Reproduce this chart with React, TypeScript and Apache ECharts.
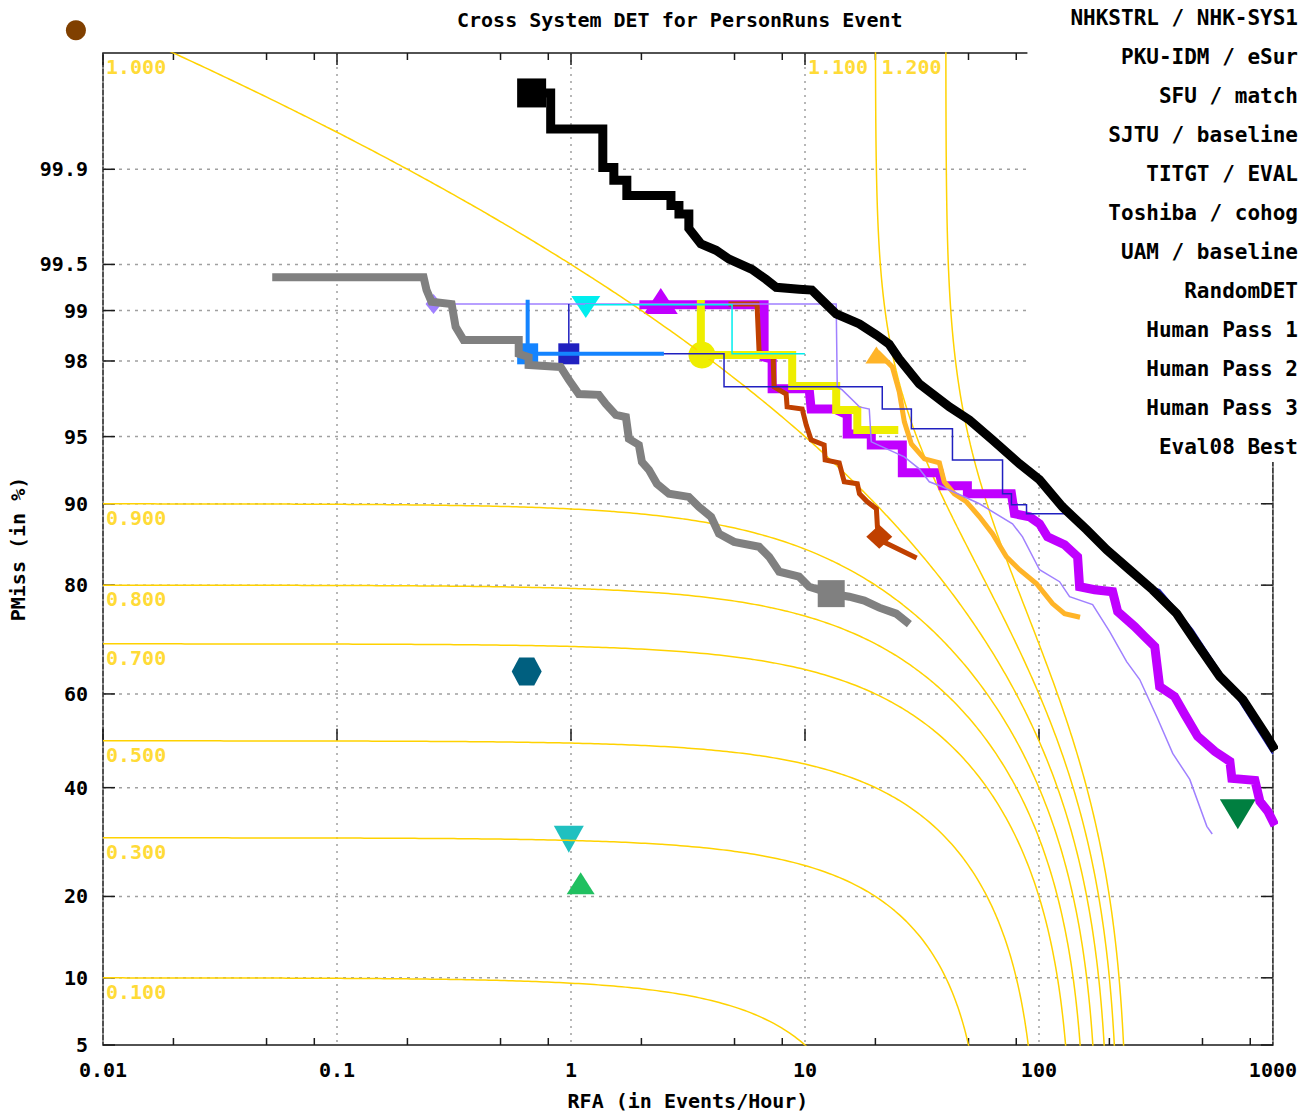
import React, { useEffect, useRef } from 'react';
import * as echarts from 'echarts';

const FONT = '"DejaVu Sans Mono", monospace';

// ---- axis ticks ----
const yTickPct = [5, 10, 20, 40, 60, 80, 90, 95, 98, 99, 99.5, 99.9];
const yTickLabels = ['5', '10', '20', '40', '60', '80', '90', '95', '98', '99', '99.5', '99.9'];
const xMinorTicks = [0.02, 0.05, 0.08, 0.2, 0.5, 0.8, 2, 5, 8, 20, 50, 80, 200, 500, 800];
const xMin = 0.01;
const xMax = 1000;
const yMinPct = 5;
const yMaxPct = 99.99;

// ---- iso-cost reference curves: cost = PMiss + beta * RFA ----
const costBeta = 0.005;
const costLevels = [0.1, 0.3, 0.5, 0.7, 0.8, 0.9, 1.0, 1.1, 1.2];
const costLabelText = ['0.100', '0.300', '0.500', '0.700', '0.800', '0.900', '1.000', '1.100', '1.200'];
const costLabelAt = [
  [0.01, 10], [0.01, 30], [0.01, 50], [0.01, 70], [0.01, 80], [0.01, 90],
  [0.01, 99.99], [10, 99.99], [20.6, 99.99],
];

// ---- legend ----
const legendNames = [
  'NHKSTRL / NHK-SYS1', 'PKU-IDM / eSur', 'SFU / match', 'SJTU / baseline',
  'TITGT / EVAL', 'Toshiba / cohog', 'UAM / baseline', 'RandomDET',
  'Human Pass 1', 'Human Pass 2', 'Human Pass 3', 'Eval08 Best',
];

// ---- system curves: [RFA (events/hour), PMiss (%)] ----
const blackCurve = [
  [0.679, 99.977], [0.819, 99.977], [0.819, 99.953], [1.368, 99.953], [1.368, 99.903], [1.525, 99.903],
  [1.525, 99.878], [1.733, 99.878], [1.733, 99.84], [2.675, 99.84], [2.675, 99.81], [2.894, 99.81],
  [2.894, 99.78], [3.19, 99.78], [3.19, 99.72], [3.59, 99.64], [4.17, 99.60], [4.74, 99.54],
  [5.94, 99.46], [6.82, 99.37], [7.53, 99.29], [9.44, 99.27], [10.7, 99.26], [12.3, 99.09],
  [13.6, 98.95], [17.1, 98.79], [20.2, 98.59], [22.9, 98.40], [25.3, 98.05], [30.8, 97.32],
  [41.4, 96.45], [50.5, 95.86], [63.3, 94.81], [82.6, 93.29], [100.6, 92.09], [126, 89.71],
  [160, 87.31], [194.6, 84.92], [244, 82.25], [306, 79.30], [388, 75.41], [473, 70.04],
  [593, 63.59], [744, 58.82], [942, 50.94], [1000, 48.78],
];
const blackMarker = [0.679, 99.977];

const grayCurve = [
  [0.055, 99.39], [0.2345, 99.39], [0.2414, 99.26], [0.2535, 99.12], [0.309, 99.09], [0.3214, 98.74],
  [0.3475, 98.49], [0.598, 98.49], [0.598, 98.18], [0.659, 98.10], [0.659, 97.89], [0.903, 97.84],
  [0.979, 97.45], [1.080, 96.96], [1.315, 96.93], [1.409, 96.57], [1.555, 96.10], [1.717, 96.00],
  [1.768, 94.87], [1.950, 94.52], [2.01, 93.42], [2.153, 92.86], [2.33, 91.77], [2.623, 90.92],
  [3.19, 90.64], [3.52, 89.71], [3.97, 88.71], [4.29, 86.86], [4.98, 85.90], [6.37, 85.29],
  [7.03, 84.01], [7.76, 81.98], [9.44, 81.25], [10.42, 79.76], [12.95, 78.69], [15.46, 78.20],
  [17.92, 77.58], [20.78, 76.42], [24.55, 75.41], [27.1, 74.02],
];
const grayMarker = [12.95, 78.69];

const magentaCurve = [
  [2.05, 99.08], [6.69, 99.08], [6.69, 98.10], [7.24, 98.05], [7.24, 97.15], [10.42, 97.15],
  [10.63, 96.36], [13.34, 96.36], [15.16, 96.10], [15.16, 95.15], [19.21, 95.15], [19.21, 94.52],
  [26.07, 94.52], [26.07, 92.63], [37.54, 92.63], [38.65, 91.60], [49.45, 91.60], [49.45, 90.92],
  [76.3, 90.92], [78.6, 89.02], [91.2, 88.71], [100.6, 87.97], [108.8, 86.50], [128.7, 85.54],
  [146.3, 84.01], [149.2, 79.76], [173, 79.30], [206.5, 78.99], [217, 75.75], [256.5, 73.15],
  [283, 71.34], [312.6, 69.48], [328, 61.54], [380, 59.46], [420, 55.66], [477, 50.94],
  [565, 47.71], [654.6, 45.56], [667.6, 41.95], [837.6, 41.53], [879.6, 37.16], [952, 35.14],
  [1000, 33.16],
];
const magentaMarker = [2.42, 99.13];

const lavenderCurve = [
  [0.2586, 99.09], [13.6, 99.09], [13.74, 97.22], [14.43, 97.11], [17.1, 96.45], [18.83, 96.36],
  [19.21, 94.70], [26.6, 93.76], [30.8, 92.93], [34.0, 91.93], [38.65, 91.52], [55.7, 90.00],
  [77.1, 87.97], [85.1, 86.50], [100.6, 82.25], [122.5, 80.52], [135.2, 78.20], [169.6, 76.92],
  [200.6, 72.25], [237, 66.58], [269.6, 62.98], [318.6, 55.23], [373, 47.28], [441.2, 41.73],
  [521.9, 32.19], [548, 30.84],
];
const lavenderMarker = [0.2586, 99.09];

const navyCurve = [
  [0.979, 99.08], [0.979, 98.18], [4.51, 98.18], [4.51, 97.22], [21.4, 97.22], [21.4, 96.36],
  [28.5, 96.36], [28.5, 95.42], [42.7, 95.42], [42.7, 93.56], [69.9, 93.56], [69.9, 90.92],
  [76.3, 90.92], [76.3, 89.90], [88.5, 89.90], [88.5, 89.02], [135.2, 89.02], [181.7, 85.90],
  [297.5, 79.76], [328, 79.30], [388, 76.09], [454.5, 72.62], [654.6, 61.54], [995, 47.28],
];
const navyMarker = [0.979, 98.18];

const blueCurve = [[0.653, 99.12], [0.653, 98.18], [2.447, 98.18]];
const blueMarker = [0.653, 98.18];

const cyanCurve = [[1.157, 99.08], [4.88, 99.08], [4.88, 98.18], [9.92, 98.18]];
const cyanMarker = [1.157, 99.05];

const yellowCurve = [
  [3.59, 99.09], [3.59, 98.15], [8.82, 98.15], [8.82, 97.25], [13.6, 97.25], [13.6, 96.32],
  [16.74, 96.32], [16.74, 95.36], [24.09, 95.36],
];
const yellowMarker = [3.63, 98.15];

const orangeRedCurve = [
  [4.83, 99.09], [6.24, 99.09], [6.37, 98.22], [7.31, 98.10], [7.38, 97.22], [8.31, 96.96],
  [8.39, 96.45], [9.73, 96.36], [10.12, 95.62], [10.63, 94.81], [12.08, 94.52], [12.2, 93.56],
  [14.01, 93.36], [14.72, 91.93], [16.74, 91.77], [17.1, 90.92], [18.47, 90.19], [20.2, 89.52],
  [20.4, 87.65], [20.78, 86.15], [29.35, 84.01],
];
const orangeRedMarker = [20.78, 86.5];

const orangeCurve = [
  [20.78, 98.18], [23.62, 97.84], [25.3, 97.04], [26.6, 95.77], [28.5, 94.58], [32.4, 93.63],
  [37.54, 93.36], [39.4, 91.93], [43.5, 90.92], [49.0, 90.19], [55.7, 88.71], [63.3, 86.86],
  [72.6, 84.01], [82.6, 82.25], [97.7, 80.22], [114.3, 77.09], [128.7, 75.41], [146.3, 74.90],
];
const orangeMarker = [20.2, 98.15];

// ---- single operating points ----
const randomDETPoint = [0.00766, 99.9939];
const humanPass1Point = [0.647, 64.59];
const humanPass2Point = [0.979, 29.71];
const humanPass3Point = [1.10, 22.06];
const eval08BestPoint = [708, 34.54];

// ---- normal deviate scale ----
function probit(p: number): number {
  const a = [-3.969683028665376e1, 2.209460984245205e2, -2.759285104469687e2, 1.38357751867269e2, -3.066479806614716e1, 2.506628277459239];
  const b = [-5.447609879822406e1, 1.615858368580409e2, -1.556989798598866e2, 6.680131188771972e1, -1.328068155288572e1];
  const c = [-7.784894002430293e-3, -3.223964580411365e-1, -2.400758277161838, -2.549732539343734, 4.374664141464968, 2.938163982698783];
  const d = [7.784695709041462e-3, 3.224671290700398e-1, 2.445134137142996, 3.754408661907416];
  const plow = 0.02425;
  if (p < plow) {
    const q = Math.sqrt(-2 * Math.log(p));
    return (((((c[0] * q + c[1]) * q + c[2]) * q + c[3]) * q + c[4]) * q + c[5]) / ((((d[0] * q + d[1]) * q + d[2]) * q + d[3]) * q + 1);
  }
  if (p <= 1 - plow) {
    const q = p - 0.5;
    const r = q * q;
    return ((((((a[0] * r + a[1]) * r + a[2]) * r + a[3]) * r + a[4]) * r + a[5]) * q) / (((((b[0] * r + b[1]) * r + b[2]) * r + b[3]) * r + b[4]) * r + 1);
  }
  const q = Math.sqrt(-2 * Math.log(1 - p));
  return -(((((c[0] * q + c[1]) * q + c[2]) * q + c[3]) * q + c[4]) * q + c[5]) / ((((d[0] * q + d[1]) * q + d[2]) * q + d[3]) * q + 1);
}
function phi(z: number): number {
  const x = Math.abs(z) / Math.SQRT2;
  const t = 1 / (1 + 0.3275911 * x);
  const e = 1 - (((((1.061405429 * t - 1.453152027) * t + 1.421413741) * t - 0.284496736) * t + 0.254829592) * t) * Math.exp(-x * x);
  return z >= 0 ? 0.5 * (1 + e) : 0.5 * (1 - e);
}

const yMin = probit(yMinPct / 100);
const yMax = probit(yMaxPct / 100);
const toXY = (d: number[][]) => d.map(([r, p]) => [r, probit(p / 100)]);

function isoCostCurve(cost: number) {
  const rs: number[] = [];
  for (let i = 0; i <= 300; i++) rs.push(Math.pow(10, -2 + (5 * i) / 300));
  for (let z = -4.5; z <= 4.8; z += 0.02) {
    const r = (cost - phi(z)) / costBeta;
    if (r > xMin && r < xMax) rs.push(r);
  }
  rs.sort((u, v) => u - v);
  const out: number[][] = [];
  rs.forEach((r) => {
    const p = cost - costBeta * r;
    if (p > 1e-6 && p < 1 - 1e-7) out.push([r, probit(p)]);
  });
  return out;
}

const GOLD = '#FFD200';
const GRID = '#a0a0a0';
const AXIS = '#1a1a1a';

function lineSeries(name: string, data: number[][], color: string, width: number) {
  return {
    type: 'line', name, data: toXY(data), showSymbol: false, symbol: 'none', clip: true,
    lineStyle: { color, width, cap: 'square', join: 'miter' }, itemStyle: { color },
    emphasis: { disabled: true }, silent: true,
  };
}
function markerSeries(name: string, pt: number[], color: string, symbol: string, size: any, rotate = 0, clip = true) {
  return {
    type: 'scatter', name, data: toXY([pt]), symbol, symbolSize: size, symbolRotate: rotate, clip,
    itemStyle: { color, opacity: 1 }, emphasis: { disabled: true }, silent: true,
  };
}

const HEX = 'path://M-10,0 L-5,-8.66 L5,-8.66 L10,0 L5,8.66 L-5,8.66 Z';

export default function App() {
  const ref = useRef<HTMLDivElement>(null);
  useEffect(() => {
    document.body.style.margin = '0';
    const chart = echarts.init(ref.current as HTMLDivElement, null, { renderer: 'svg' });
    const textBase = { fontFamily: FONT, fontWeight: 'bold', color: '#000' };

    const series: any[] = [];
    // y grid, ticks and probability labels
    series.push({
      type: 'custom', name: '_ygrid', silent: true, clip: false, z: 1,
      data: yTickPct.map((p) => [xMin, probit(p / 100)]),
      renderItem: (params: any, api: any) => {
        const cs = params.coordSys;
        const y = api.coord([api.value(0), api.value(1)])[1];
        const i = params.dataIndex;
        const children: any[] = [];
        if (yTickPct[i] !== yMinPct) {
          children.push({ type: 'line', shape: { x1: cs.x, y1: y, x2: cs.x + cs.width, y2: y }, style: { stroke: GRID, lineWidth: 1.5, lineDash: [3, 5] } });
        }
        children.push({ type: 'line', shape: { x1: cs.x, y1: y, x2: cs.x + 12, y2: y }, style: { stroke: AXIS, lineWidth: 1.5 } });
        children.push({ type: 'line', shape: { x1: cs.x + cs.width - 12, y1: y, x2: cs.x + cs.width, y2: y }, style: { stroke: AXIS, lineWidth: 1.5 } });
        children.push({
          type: 'text', x: cs.x - 15, y,
          style: { text: yTickLabels[i], align: 'right', verticalAlign: 'middle', fontFamily: FONT, fontWeight: 'bold', fontSize: 20, fill: '#000' },
        });
        return { type: 'group', children };
      },
    });
    // x minor ticks
    series.push({
      type: 'custom', name: '_xminor', silent: true, clip: false, z: 1,
      data: xMinorTicks.map((v) => [v, yMin]),
      renderItem: (params: any, api: any) => {
        const cs = params.coordSys;
        const x = api.coord([api.value(0), api.value(1)])[0];
        return {
          type: 'group',
          children: [
            { type: 'line', shape: { x1: x, y1: cs.y + cs.height, x2: x, y2: cs.y + cs.height - 7 }, style: { stroke: AXIS, lineWidth: 1.5 } },
            { type: 'line', shape: { x1: x, y1: cs.y, x2: x, y2: cs.y + 7 }, style: { stroke: AXIS, lineWidth: 1.5 } },
          ],
        };
      },
    });
    // iso-cost curves
    costLevels.forEach((c, i) => {
      series.push({
        type: 'line', name: '_cost' + i, data: isoCostCurve(c), showSymbol: false, symbol: 'none', clip: true,
        lineStyle: { color: GOLD, width: 1.5 }, emphasis: { disabled: true }, silent: true,
      });
    });
    series.push({
      type: 'scatter', name: '_costlabels', clip: false, silent: true, symbolSize: 0,
      data: costLabelAt.map(([r, p], i) => ({ value: [r, probit(p / 100)], label: { formatter: costLabelText[i] } })),
      label: { show: true, position: [3, 4], align: 'left', verticalAlign: 'top', color: GOLD, fontFamily: FONT, fontWeight: 'bold', fontSize: 20 },
      itemStyle: { color: 'transparent' },
    });

    // systems
    series.push(lineSeries('SFU / match', magentaCurve, '#C000FF', 9));
    series.push(markerSeries('SFU / match', magentaMarker, '#C000FF', 'triangle', [34, 26]));
    series.push(lineSeries('SJTU / baseline', orangeRedCurve, '#C04000', 5));
    series.push(markerSeries('SJTU / baseline', orangeRedMarker, '#C04000', 'diamond', [26, 24]));
    series.push(lineSeries('TITGT / EVAL', yellowCurve, '#EEEE00', 8));
    series.push(markerSeries('TITGT / EVAL', yellowMarker, '#EEEE00', 'circle', 27));
    series.push(lineSeries('UAM / baseline', orangeCurve, '#FFB428', 5));
    series.push(markerSeries('UAM / baseline', orangeMarker, '#FFB428', 'triangle', [22, 17]));
    series.push(lineSeries('Toshiba / cohog', lavenderCurve, '#A080FF', 1.5));
    series.push(markerSeries('Toshiba / cohog', lavenderMarker, '#A080FF', 'diamond', [16, 20]));
    series.push(lineSeries('_cyanRun', cyanCurve, '#00EEEE', 1.5));
    series.push(markerSeries('_cyanRun', cyanMarker, '#00EEEE', 'triangle', [29, 22], 180));
    series.push(lineSeries('_navyRun', navyCurve, '#2020C0', 1.5));
    series.push(markerSeries('_navyRun', navyMarker, '#2020C0', 'rect', 21));
    series.push(lineSeries('NHKSTRL / NHK-SYS1', blackCurve, '#000000', 9));
    series.push(markerSeries('NHKSTRL / NHK-SYS1', blackMarker, '#000000', 'rect', 29));
    series.push(lineSeries('_blueRun', blueCurve, '#1484FF', 4));
    series.push(markerSeries('_blueRun', blueMarker, '#1484FF', 'rect', 21));
    series.push(lineSeries('PKU-IDM / eSur', grayCurve, '#808080', 8));
    series.push(markerSeries('PKU-IDM / eSur', grayMarker, '#808080', 'rect', 27));

    // single points
    series.push(markerSeries('RandomDET', randomDETPoint, '#804000', 'circle', 20, 0, false));
    series.push(markerSeries('Human Pass 1', humanPass1Point, '#005F7F', HEX, [30, 28]));
    series.push(markerSeries('Human Pass 2', humanPass2Point, '#20C0C0', 'triangle', [30, 27], 180));
    series.push(markerSeries('Human Pass 3', humanPass3Point, '#20C060', 'triangle', [28, 22]));
    series.push(markerSeries('Eval08 Best', eval08BestPoint, '#007F40', 'triangle', [36, 30], 180));

    const option: any = {
      animation: false,
      backgroundColor: '#ffffff',
      title: {
        text: 'Cross System DET for PersonRuns Event', left: 452, top: 5,
        textStyle: { ...textBase, fontSize: 20 },
      },
      legend: {
        data: legendNames.map((n) => ({ name: n, icon: 'none' })),
        orient: 'vertical', align: 'right', right: -3, top: 0,
        padding: [6, 0, 3, 43], backgroundColor: '#ffffff',
        itemWidth: 0, itemHeight: 24, itemGap: 15, selectedMode: false,
        textStyle: { ...textBase, fontSize: 21, lineHeight: 24 },
      },
      grid: { left: 103, right: 27, top: 53, bottom: 67.5, show: true, borderColor: AXIS, borderWidth: 1.5, backgroundColor: 'transparent' },
      xAxis: [
        {
          type: 'log', logBase: 10, min: xMin, max: xMax, splitNumber: 5,
          name: 'RFA (in Events/Hour)', nameLocation: 'middle', nameGap: 46,
          nameTextStyle: { ...textBase, fontSize: 20 },
          axisLine: { show: false },
          axisTick: { show: true, inside: true, length: 12, lineStyle: { color: AXIS, width: 1.5 } },
          axisLabel: { ...textBase, fontSize: 20, margin: 15, formatter: (v: number) => String(Number(v.toPrecision(6))) },
          splitLine: { show: true, lineStyle: { color: GRID, width: 1.5, type: [2, 5] } },
          minorTick: { show: false }, minorSplitLine: { show: false },
        },
        {
          type: 'log', logBase: 10, min: xMin, max: xMax, splitNumber: 5, position: 'top',
          axisLine: { show: false },
          axisTick: { show: true, inside: true, length: 12, lineStyle: { color: AXIS, width: 1.5 } },
          axisLabel: { show: false }, splitLine: { show: false },
        },
      ],
      yAxis: {
        type: 'value', min: yMin, max: yMax,
        name: 'PMiss (in %)', nameLocation: 'middle', nameGap: 75,
        nameTextStyle: { ...textBase, fontSize: 20 },
        axisLine: { show: false }, axisTick: { show: false }, axisLabel: { show: false }, splitLine: { show: false },
      },
      series,
    };
    chart.setOption(option);
    return () => chart.dispose();
  }, []);
  return <div ref={ref} style={{ width: 1300, height: 1116 }} />;
}
